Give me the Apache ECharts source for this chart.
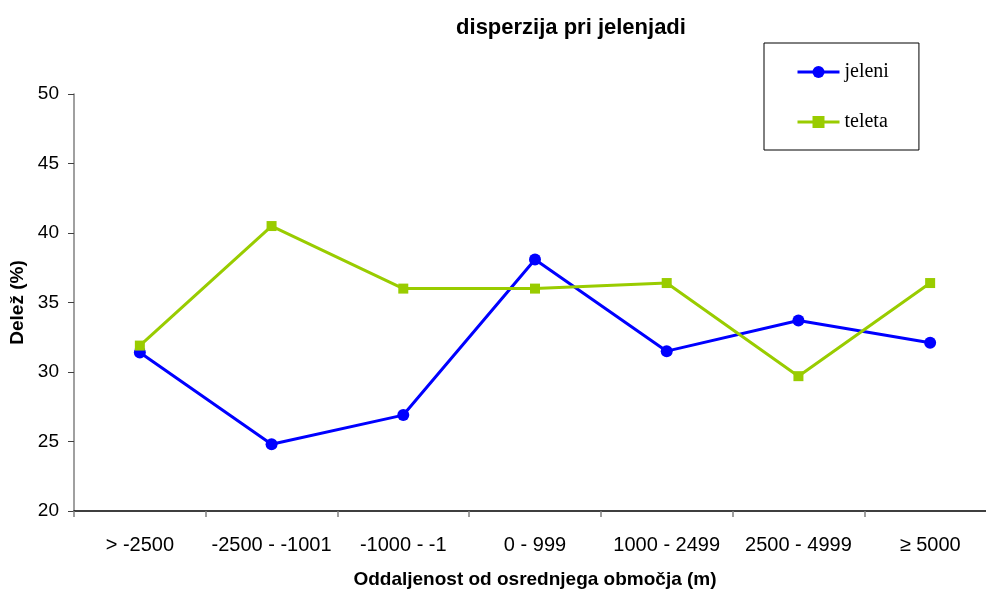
<!DOCTYPE html>
<html><head><meta charset="utf-8">
<script src="https://cdn.jsdelivr.net/npm/echarts@6/dist/echarts.min.js"></script>
<style>html,body{margin:0;padding:0;background:#fff;overflow:hidden}#c{width:1000px;height:592px}</style>
</head><body><div id="c"></div>
<script>
const categories = ['> -2500', '-2500 - -1001', '-1000 - -1', '0 - 999', '1000 - 2499', '2500 - 4999', '≥ 5000'];
const jeleni = [31.4, 24.8, 26.9, 38.1, 31.5, 33.7, 32.1];
const teleta = [31.9, 40.5, 36.0, 36.0, 36.4, 29.7, 36.4];
const yTicks = { min: 20, max: 50, interval: 5 };

const chart = echarts.init(document.getElementById('c'));
chart.setOption({
  animation: false,
  backgroundColor: '#fff',
  title: {
    text: 'disperzija pri jelenjadi', left: 566, top: 12, textAlign: 'center',
    textStyle: { fontFamily: 'Arial, Liberation Sans', fontSize: 22, fontWeight: 'bold', color: '#000' }
  },
  legend: {
    orient: 'vertical', left: 764, top: 43,
    padding: [19, 30, 18, 32], itemGap: 30,
    itemWidth: 42, itemHeight: 15,
    lineStyle: { width: 3 },
    borderColor: '#000', borderWidth: 1,
    textStyle: { fontFamily: 'Liberation Serif, Times New Roman', fontSize: 20, color: '#000' },
    data: ['jeleni', 'teleta']
  },
  grid: { left: 74, top: 94, width: 922, height: 417, containLabel: false, outerBoundsMode: 'none' },
  xAxis: {
    type: 'category', data: categories, boundaryGap: true,
    name: 'Oddaljenost od osrednjega območja (m)', nameLocation: 'middle', nameGap: 59,
    nameTextStyle: { fontFamily: 'Arial, Liberation Sans', fontSize: 19, fontWeight: 'bold', color: '#000' },
    axisLine: { lineStyle: { color: '#000', width: 1.5 } },
    axisTick: { show: true, length: 6, lineStyle: { color: '#808080', width: 1.5 } },
    axisLabel: { interval: 0, margin: 24, fontFamily: 'Arial, Liberation Sans', fontSize: 20, color: '#000' }
  },
  yAxis: {
    type: 'value', min: yTicks.min, max: yTicks.max, interval: yTicks.interval,
    name: 'Delež (%)', nameLocation: 'middle', nameGap: 41,
    nameTextStyle: { fontFamily: 'Arial, Liberation Sans', fontSize: 19, fontWeight: 'bold', color: '#000' },
    splitLine: { show: false },
    axisLine: { show: true, lineStyle: { color: '#808080', width: 1.5 } },
    axisTick: { show: true, length: 6, lineStyle: { color: '#404040', width: 1 } },
    axisLabel: { margin: 15, fontFamily: 'Arial, Liberation Sans', fontSize: 19, color: '#000' }
  },
  series: [
    { name: 'jeleni', type: 'line', data: jeleni, symbol: 'circle', symbolSize: 12,
      itemStyle: { color: '#0000FF' }, lineStyle: { color: '#0000FF', width: 3 } },
    { name: 'teleta', type: 'line', data: teleta, symbol: 'rect', symbolSize: 10,
      itemStyle: { color: '#99CC00' }, lineStyle: { color: '#99CC00', width: 3 } }
  ]
});
</script></body></html>
